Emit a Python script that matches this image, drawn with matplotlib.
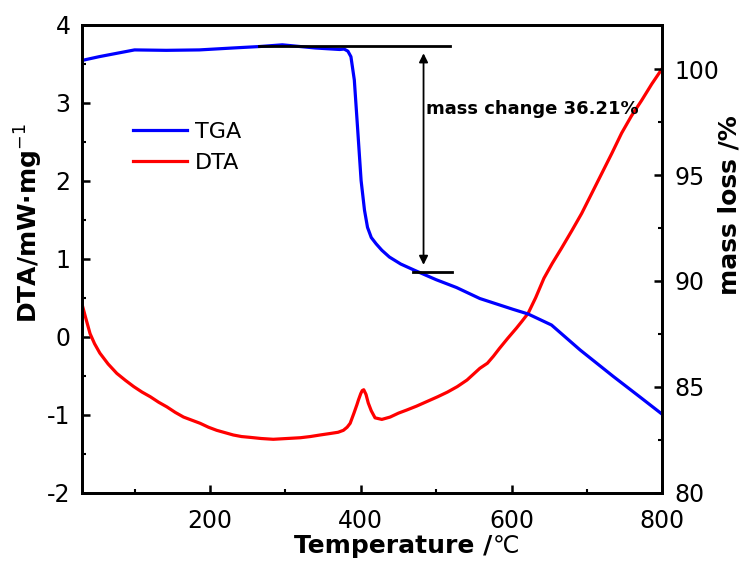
import matplotlib
matplotlib.use('Agg')
import matplotlib.pyplot as plt
from matplotlib.ticker import MultipleLocator
from matplotlib.lines import Line2D

plt.rcParams['font.family'] = ['DejaVu Sans']
plt.rcParams['axes.unicode_minus'] = False

# ---- data ----
tga_temp = [30, 53, 75, 100, 142, 186, 230, 266, 296, 340, 372, 378, 383, 387,
            391.5, 396, 400.5, 405, 409, 414, 420.5, 428, 438, 453, 471.6, 500,
            527, 558, 602, 622, 653, 691, 735, 770, 800]
tga_mass = [100.41, 100.59, 100.74, 100.91, 100.89, 100.91, 101.00, 101.07,
            101.15, 101.00, 100.93, 100.95, 100.85, 100.59, 99.49, 97.13, 94.74,
            93.34, 92.53, 92.05, 91.75, 91.45, 91.13, 90.80, 90.50, 90.06, 89.69,
            89.17, 88.66, 88.44, 87.92, 86.74, 85.49, 84.53, 83.70]

dta_temp = [30, 35, 41, 47, 54, 65, 76.5, 88, 99, 110, 121, 132, 143, 154, 165,
            176, 187, 198, 209, 220, 231, 242, 253, 268, 284, 302, 320, 333, 346,
            360, 370, 377, 382, 386, 391, 395, 397, 400, 402, 404, 407, 410, 414,
            419, 428, 439, 450, 461, 474, 488, 502, 515, 528, 541, 558, 568, 576,
            584, 595, 606.5, 614, 622, 632, 643, 654, 666, 680, 693, 706, 719.5,
            733, 746, 759, 772.6, 786, 800]
dta_val = [0.43, 0.25, 0.04, -0.09, -0.21, -0.35, -0.47, -0.56, -0.64, -0.71,
           -0.77, -0.84, -0.90, -0.97, -1.03, -1.07, -1.11, -1.16, -1.20, -1.23,
           -1.26, -1.28, -1.29, -1.305, -1.315, -1.305, -1.295, -1.28, -1.26,
           -1.24, -1.225, -1.20, -1.16, -1.11, -0.98, -0.87, -0.81, -0.73, -0.69,
           -0.68, -0.74, -0.85, -0.95, -1.04, -1.06, -1.03, -0.98, -0.94, -0.89,
           -0.83, -0.77, -0.71, -0.64, -0.555, -0.405, -0.34, -0.25, -0.15, -0.02,
           0.11, 0.20, 0.30, 0.50, 0.75, 0.94, 1.13, 1.36, 1.58, 1.83, 2.09, 2.35,
           2.61, 2.83, 3.03, 3.24, 3.44]

x_ticks = [200, 400, 600, 800]
dta_ticks = [-2, -1, 0, 1, 2, 3, 4]
mass_ticks = [80, 85, 90, 95, 100]

ann_text = "mass change 36.21%"
ann_top, ann_bottom = 101.09, 90.41

# ---- figure ----
fig = plt.figure(figsize=(7.5, 5.72), dpi=100)
ax = fig.add_axes([0.109, 0.1386, 0.7741, 0.8182])
ax2 = ax.twinx()

red = '#ff0000'
blue = '#0000ff'
ax.plot(dta_temp, dta_val, color=red, lw=2.3, solid_joinstyle='round')
ax2.plot(tga_temp, tga_mass, color=blue, lw=2.3, solid_joinstyle='round')

ax.set_xlim(30, 800)
ax.set_ylim(-2, 4)
ax2.set_ylim(80, 102.1)

ax.set_xticks(x_ticks)
ax.set_yticks(dta_ticks)
ax2.set_yticks(mass_ticks)
ax.xaxis.set_minor_locator(MultipleLocator(100))
ax.yaxis.set_minor_locator(MultipleLocator(0.5))
ax2.yaxis.set_minor_locator(MultipleLocator(2.5))

for a in (ax, ax2):
    for s in a.spines.values():
        s.set_linewidth(2)
ax.tick_params(axis='both', which='major', direction='in', length=5.5, width=1.8,
               labelsize=17)
ax.tick_params(axis='both', which='minor', direction='in', length=3.2, width=1.5)
ax.tick_params(axis='x', which='major', pad=12)
ax.tick_params(axis='y', which='major', pad=8)
ax.tick_params(top=False, right=False, which='both')
ax2.tick_params(axis='y', which='major', direction='in', length=5.5, width=1.8,
                labelsize=17, pad=9)
ax2.tick_params(axis='y', which='minor', direction='in', length=3.2, width=1.5)

# annotation
ax2.plot([265.4, 518.8], [ann_top, ann_top], color='black', lw=2, zorder=5)
ax2.plot([468.7, 521.3], [ann_bottom, ann_bottom], color='black', lw=2, zorder=5)
ax2.annotate('', xy=(483.3, 100.75), xytext=(483.3, 90.76),
             arrowprops=dict(arrowstyle='<|-|>', color='black', lw=1.3,
                             mutation_scale=13, shrinkA=0, shrinkB=0))
ax2.text(487, 98.1, ann_text, fontsize=13, fontweight='bold', ha='left',
         va='center')

# legend
handles = [Line2D([], [], color=blue, lw=2.3), Line2D([], [], color=red, lw=2.3)]
ax2.legend(handles, ['TGA', 'DTA'], loc='upper left', bbox_to_anchor=(0.073, 0.811),
           borderaxespad=0, frameon=False, fontsize=16, handlelength=2.43,
           handletextpad=0.36, labelspacing=0.5)

# axis labels
fig.text(0.038, 1 - 223.5 / 572, 'DTA/mW·mg$^{-1}$', rotation=90, ha='center',
         va='center', fontsize=18, fontweight='bold')
fig.text(0.9727, 1 - 205 / 572, 'mass loss /%', rotation=90, ha='center',
         va='center', fontsize=18, fontweight='bold')
fig.text(492 / 750, 1 - 553 / 572, 'Temperature /', ha='right', va='baseline',
         fontsize=18, fontweight='bold')
fig.text(493 / 750, 1 - 553 / 572, '℃', ha='left', va='baseline', fontsize=17)

fig.savefig('out.png', dpi=100)
